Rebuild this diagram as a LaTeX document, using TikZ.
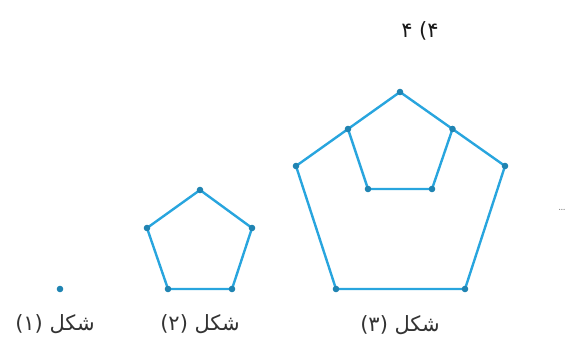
\documentclass[tikz,border=0pt]{standalone}
\usepackage{fontspec}
\TeXXeTstate=1
\newfontfamily\persianfont[Script=Arabic]{DejaVu Sans}
\usetikzlibrary{calc}
\definecolor{shapeblue}{RGB}{40,165,222}
\tikzset{
    pentagon line/.style={line width=2.4pt, shapeblue, line join=round},
    vertex dot/.style={fill=shapeblue!80!black},
    figure label/.style={font=\persianfont\fontsize{21}{24}\selectfont, text=black!80},
    option label/.style={font=\persianfont\fontsize{21}{24}\selectfont, text=black!90}
}
\newcommand{\Vertex}[1]{\fill[vertex dot](#1)circle(3.3pt);}

\begin{document}
\begin{tikzpicture}[x=1pt,y=-1pt]
    \useasboundingbox(0,0)rectangle(575,344);

    % figure (1): a single point
    \coordinate(P)at(60,289);
    \Vertex{P}

    % figure (2)
    \coordinate(A2)at(200,190);
    \coordinate(B2)at(252,228);
    \coordinate(C2)at(232,289);
    \coordinate(D2)at(168,289);
    \coordinate(E2)at(147,228);
    \draw[pentagon line](A2)--(B2)--(C2)--(D2)--(E2)--cycle;
    \foreach \v in {A2,B2,C2,D2,E2}{\Vertex{\v}}

    % figure (3): outer pentagon and inner one on the edge midpoints
    \coordinate(A3)at(400,92);
    \coordinate(B3)at(505,166);
    \coordinate(C3)at(465,289);
    \coordinate(D3)at(336,289);
    \coordinate(E3)at(296,166);
    \coordinate(F3)at($(A3)!.5!(B3)$);
    \coordinate(G3)at(432,189);
    \coordinate(H3)at(368,189);
    \coordinate(K3)at($(A3)!.5!(E3)$);
    \draw[pentagon line](A3)--(B3)--(C3)--(D3)--(E3)--cycle;
    \draw[pentagon line](F3)--(G3)--(H3)--(K3);
    \foreach \v in {A3,B3,C3,D3,E3,F3,G3,H3,K3}{\Vertex{\v}}

    % labels
    \node[figure label](L1)at(55,324){\beginR شکل (۱)\endR};
    \node[figure label](L2)at(200,324){\beginR شکل (۲)\endR};
    \node[figure label](L3)at(400,325){\beginR شکل (۳)\endR};
    \node[option label](Q)at(420,31){\beginR ۴) ۴\endR};
    \node[text=black!55,font=\large](more)at(562,210){\dots};
\end{tikzpicture}
\end{document}
